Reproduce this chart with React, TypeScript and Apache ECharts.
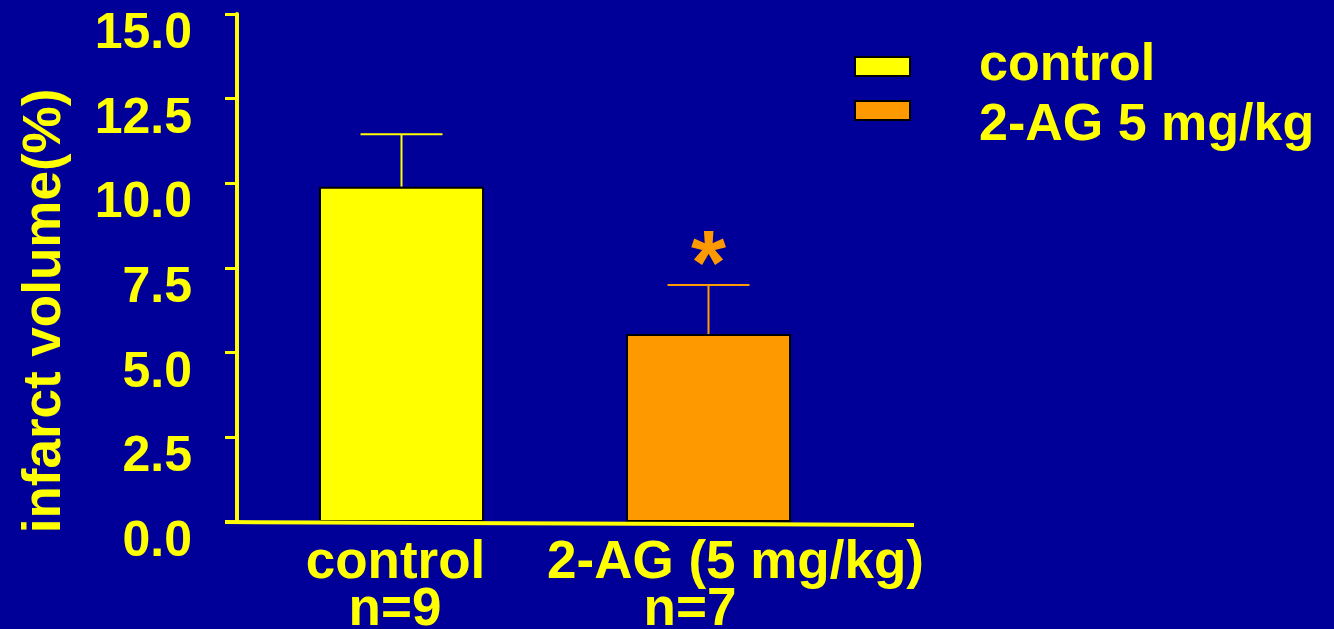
import React, { useEffect, useRef } from "react";
import * as echarts from "echarts";

// ---- data ----
const groupLabels = ["control", "2-AG (5 mg/kg)"];
const groupN = ["n=9", "n=7"];
const legendNames = ["control", "2-AG 5 mg/kg"];
const means = [9.9, 5.55];
const sems = [1.55, 1.45];
const significance = ["", "*"];
const barColors = ["#ffff00", "#ff9900"];
const yMin = 0;
const yMax = 15;
const yInterval = 2.5;

const BG = "#000099";
const FG = "#ffff00";
const FONT = "'Liberation Sans', Arial, Helvetica, sans-serif";

export default function App() {
  const ref = useRef<HTMLDivElement>(null);

  useEffect(() => {
    if (!ref.current) return;
    const chart = echarts.init(ref.current, undefined, { renderer: "svg" });

    const barSeries = legendNames.map((name, si) => ({
      type: "bar",
      name,
      data: means.map((m, i) => (i === si ? m : "-")),
      barWidth: 165,
      barGap: "-100%",
      z: 3,
      itemStyle: { color: barColors[si], borderColor: "#000000", borderWidth: 2 },
    }));

    const errSeries = {
      type: "custom",
      name: "sem",
      z: 2,
      data: means.map((m, i) => [i, m, m + sems[i], i]),
      encode: { x: 0, y: [1, 2] },
      renderItem: (params: any, api: any) => {
        const i = api.value(3);
        const base = api.coord([api.value(0), api.value(1)]);
        const top = api.coord([api.value(0), api.value(2)]);
        const half = 41;
        const color = barColors[i];
        const children: any[] = [
          {
            type: "line",
            shape: { x1: base[0], y1: base[1], x2: base[0], y2: top[1] },
            style: { stroke: color, lineWidth: 2 },
          },
          {
            type: "line",
            shape: { x1: base[0] - half, y1: top[1], x2: base[0] + half, y2: top[1] },
            style: { stroke: color, lineWidth: 2 },
          },
        ];
        if (significance[i]) {
          children.push({
            type: "text",
            x: base[0],
            y: top[1] - 22,
            style: {
              text: significance[i],
              fill: color,
              font: `bold 90px ${FONT}`,
              align: "center",
              verticalAlign: "middle",
              textAlign: "center",
              textVerticalAlign: "middle",
            },
          });
        }
        return { type: "group", children };
      },
    };

    const lab = { fontSize: 53, fontWeight: "bold", fontFamily: FONT, color: FG, lineHeight: 47 };
    const rich: any = {
      a0: { ...lab, padding: [0, 12, 0, 0] },
      b0: { ...lab, padding: [0, 13, 0, 0] },
      a1: { ...lab, padding: [0, 0, 0, 54] },
      b1: { ...lab, padding: [0, 37, 0, 0] },
    };

    const legendGraphics: any[] = [];
    const legendBoxY = [57, 101];
    const legendTextY = [62, 122];
    legendNames.forEach((name, i) => {
      legendGraphics.push({
        type: "rect",
        shape: { x: 855, y: legendBoxY[i], width: 55, height: 19 },
        style: { fill: barColors[i], stroke: "#000000", lineWidth: 2 },
      });
      legendGraphics.push({
        type: "text",
        x: 979,
        y: legendTextY[i],
        style: {
          text: name,
          fill: FG,
          font: `bold 52px ${FONT}`,
          align: "left",
          verticalAlign: "middle",
          textAlign: "left",
          textVerticalAlign: "middle",
        },
      });
    });

    chart.setOption({
      animation: false,
      backgroundColor: BG,
      grid: {
        left: 248,
        right: 472,
        top: 14,
        bottom: 107,
        containLabel: false,
        outerBoundsMode: "none",
      },
      xAxis: {
        type: "category",
        data: groupLabels,
        axisLine: { show: false },
        axisTick: { show: false },
        splitLine: { show: false },
        axisLabel: {
          interval: 0,
          margin: 14,
          formatter: (v: string, i: number) => `{a${i}|${v}}\n{b${i}|${groupN[i]}}`,
          rich,
        },
      },
      yAxis: {
        type: "value",
        min: yMin,
        max: yMax,
        interval: yInterval,
        offset: 11,
        axisLine: { show: true, lineStyle: { color: FG, width: 4 } },
        axisTick: { show: true, inside: false, length: 12, lineStyle: { color: FG, width: 3 } },
        splitLine: { show: false },
        axisLabel: {
          color: FG,
          fontSize: 50,
          fontWeight: "bold",
          fontFamily: FONT,
          margin: 45,
          verticalAlign: "top",
          lineHeight: 34,
          formatter: (v: number) => v.toFixed(1),
        },
      },
      graphic: [
        {
          type: "line",
          shape: { x1: 225, y1: 522, x2: 914, y2: 525 },
          style: { stroke: FG, lineWidth: 4 },
          z: 10,
        },
        {
          type: "text",
          x: 41,
          y: 311,
          rotation: Math.PI / 2,
          style: {
            text: "infarct volume(%)",
            fill: FG,
            font: `bold 53px ${FONT}`,
            align: "center",
            verticalAlign: "middle",
            textAlign: "center",
            textVerticalAlign: "middle",
          },
        },
        ...legendGraphics,
      ],
      series: [...barSeries, errSeries],
    });

    return () => chart.dispose();
  }, []);

  return (
    <div
      ref={ref}
      style={{ position: "fixed", left: 0, top: 0, width: 1334, height: 629 }}
    />
  );
}
